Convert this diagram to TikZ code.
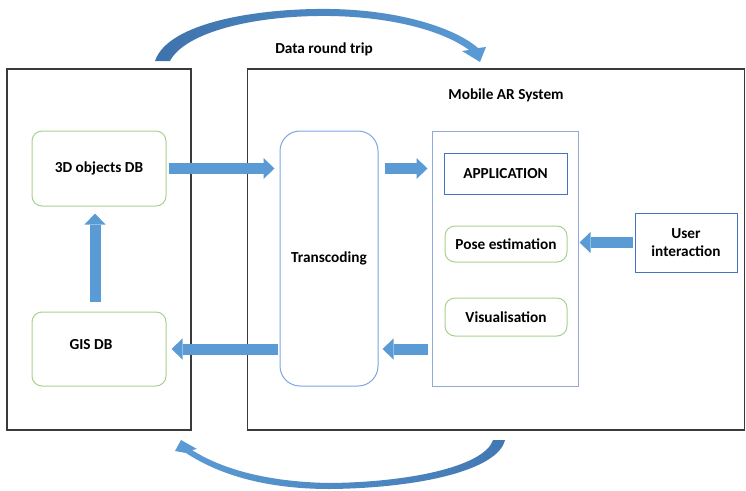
\documentclass[tikz,border=0pt]{standalone}
\usepackage{fontspec}
\setmainfont{Carlito}
\usetikzlibrary{arrows.meta,calc}
\definecolor{arrowblue}{HTML}{5B9BD5}
\definecolor{darkblue}{HTML}{3E72AC}
\definecolor{greenline}{HTML}{A9D18E}
\definecolor{lightblueline}{HTML}{8EAADB}
\definecolor{transline}{HTML}{7EA6E0}
\definecolor{blueline}{HTML}{4472C4}
\definecolor{frame}{HTML}{3A3A3A}
\begin{document}
\begin{tikzpicture}[x=1pt,y=-1pt,
  every node/.style={font=\fontsize{15.3}{18}\selectfont\bfseries, text=black},
  outerbox/.style={draw=frame, line width=1.1pt, inner sep=0pt},
  gbox/.style={draw=greenline, line width=1pt, rounded corners=10pt, inner sep=0pt, fill=white},
  tbox/.style={draw=transline, line width=1pt, rounded corners=20pt, inner sep=0pt, fill=white},
  cbox/.style={draw=lightblueline, line width=1pt, inner sep=0pt, fill=white},
  bbox/.style={draw=blueline, line width=1pt, inner sep=0pt, fill=white, align=center},
  blockarrow/.style={draw=arrowblue, line width=11pt, -{Triangle[length=11pt,width=21pt,line width=0pt]}},
]
\useasboundingbox (0,0) rectangle (746,490);
% frames
\node[outerbox, minimum width=184pt, minimum height=361pt] (leftbox) at (99,249.5) {};
\node[outerbox, minimum width=497pt, minimum height=361pt] (rightbox) at (496,249.5) {};
\node (title) at (506,95) {Mobile AR System};
\node (trip) at (324,49) {Data round trip};
% boxes
\node[gbox, minimum width=134pt, minimum height=75pt] (db3d) at (99,168.5) {3D objects DB};
\node[gbox, minimum width=134pt, minimum height=74pt] (gis) at (99,349) {};
\node (gistext) at (91,345) {GIS DB};
\node[tbox, minimum width=98pt, minimum height=255pt] (trans) at (329,258.5) {Transcoding};
\node[cbox, minimum width=146pt, minimum height=255pt] (cont) at (505,258.5) {};
\node[bbox, minimum width=123pt, minimum height=41pt] (app) at (505.5,173.5) {APPLICATION};
\node[gbox, minimum width=122pt, minimum height=36pt] (pose) at (506,244) {Pose estimation};
\node[gbox, minimum width=122pt, minimum height=38pt] (vis) at (506,317) {Visualisation};
\node[bbox, minimum width=102pt, minimum height=59pt] (user) at (686,242.5) {User\\interaction};
% straight block arrows
\draw[blockarrow, shorten <=2pt, shorten >=5pt] (db3d.east) -- (db3d.east -| trans.west);
\draw[blockarrow, shorten <=6pt, shorten >=4pt] (trans.east |- db3d.east) -- (cont.west |- db3d.east);
\draw[blockarrow, shorten <=2pt, shorten >=1pt] (user.west) -- (cont.east |- user.west);
\draw[blockarrow, shorten <=4pt, shorten >=4pt] (cont.west |- gis.east) -- (trans.east |- gis.east);
\draw[blockarrow, shorten <=2pt, shorten >=5pt] (trans.west |- gis.east) -- (gis.east);
\draw[blockarrow, shorten <=10pt, shorten >=7pt] ([xshift=-4pt]gis.north) -- ([xshift=-4pt]db3d.south);
% curved arrows
\shade[left color=darkblue, right color=arrowblue]
  (155,61) .. controls (168,22) and (260,8) .. (330,9)
  .. controls (400,10) and (455,28) .. (478,48)
  -- (486,47) -- (480,62) -- (462,51) -- (469,50)
  .. controls (445,32) and (395,17) .. (330,16)
  .. controls (255,15) and (185,32) .. (170,61) -- cycle;
\shade[left color=arrowblue, right color=darkblue!85!arrowblue]
  (505,440) .. controls (498,470) and (420,488) .. (330,489)
  .. controls (260,489) and (215,472) .. (186,453)
  -- (175,451) -- (181,440) -- (197,449) -- (192,450)
  .. controls (220,468) and (265,482) .. (330,483)
  .. controls (415,482) and (485,465) .. (493,440) -- cycle;
\end{tikzpicture}
\end{document}
